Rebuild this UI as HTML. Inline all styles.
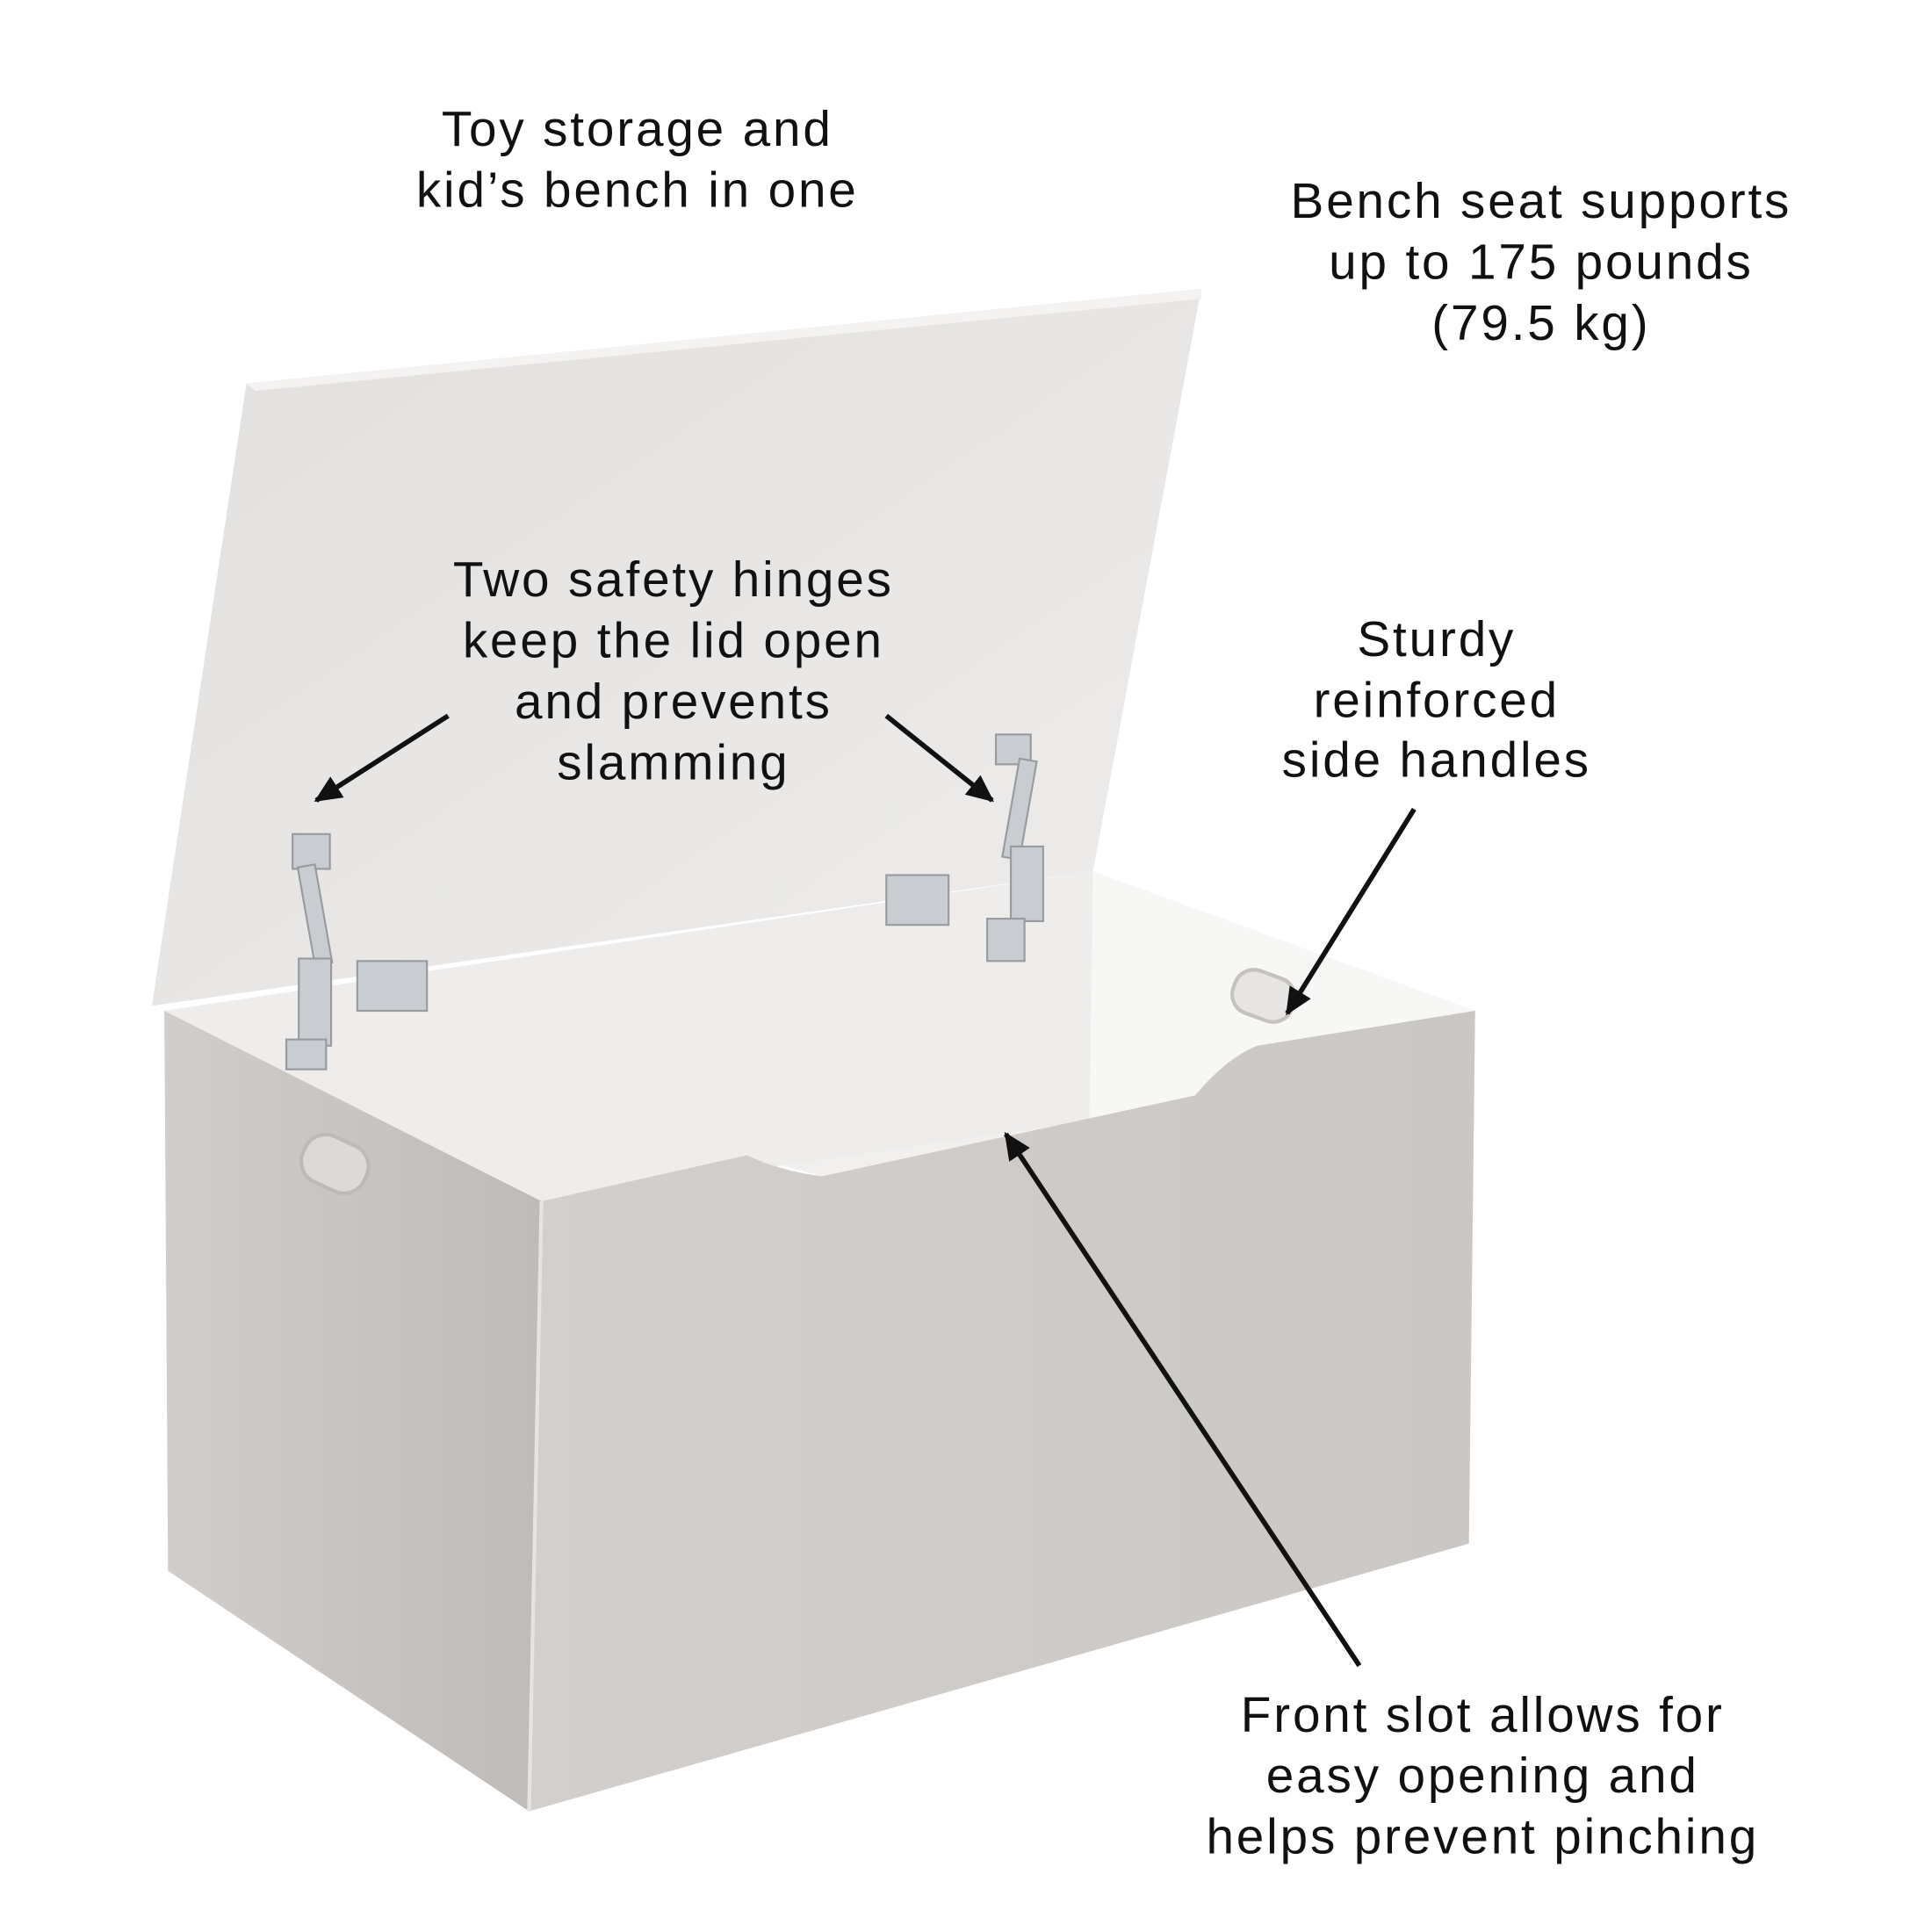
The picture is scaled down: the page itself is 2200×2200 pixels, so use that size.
<!DOCTYPE html>
<html><head><meta charset="utf-8"><style>
html,body{margin:0;padding:0;background:#fff;}
svg{display:block;}
text{font-family:"Liberation Sans",sans-serif;font-size:40px;letter-spacing:2px;fill:#111;text-anchor:middle;}
</style></head><body>
<svg width="2200" height="2200" viewBox="0 0 1552 1552" xmlns="http://www.w3.org/2000/svg">
<defs>
<linearGradient id="lid" x1="0" y1="0" x2="1" y2="1">
<stop offset="0" stop-color="#e2e0de"/><stop offset="1" stop-color="#eeedeb"/></linearGradient>
<linearGradient id="front" x1="0" y1="0" x2="1" y2="0">
<stop offset="0" stop-color="#d2cfcd"/><stop offset="1" stop-color="#cac7c4"/></linearGradient>
<linearGradient id="side" x1="0" y1="0" x2="1" y2="0">
<stop offset="0" stop-color="#d0cdca"/><stop offset="1" stop-color="#bfbcb8"/></linearGradient>
<marker id="ah" markerWidth="22" markerHeight="20" refX="20" refY="10" orient="auto" markerUnits="userSpaceOnUse" viewBox="0 0 22 20">
<path d="M0,0 L22,10 L0,20 z" fill="#111"/></marker>
</defs>
<polygon points="198,308 965,232 878,700 122,808" fill="url(#lid)"/>
<polygon points="198,308 965,232 965,240 205,314" fill="#f4f3f2"/>
<polygon points="132,812 878,700 1185,812 1010,840 960,880 660,945 600,928 435,965" fill="#f1f0ef"/>
<polygon points="878,700 1185,812 1010,840 960,880 875,900" fill="#f7f7f6"/>
<polygon points="132,812 878,700 875,900 435,965" fill="#eeedec"/>
<polygon points="132,812 435,965 425,1455 135,1262" fill="url(#side)"/>
<path d="M435,965 L600,928 Q625,940 660,945 L960,880 Q985,850 1010,840 L1185,812 L1180,1240 L425,1455 Z" fill="url(#front)"/>
<path d="M435,965 L425,1455" stroke="#e6e4e2" stroke-width="3"/>
<rect x="242" y="915" width="54" height="40" rx="18" fill="#dcdad8" stroke="#bdbab7" stroke-width="3" transform="rotate(25 269 935)"/>
<rect x="990" y="782" width="50" height="36" rx="16" fill="#e6e5e3" stroke="#c5c2bf" stroke-width="3" transform="rotate(20 1015 800)"/>
<g fill="#c9ccd0" stroke="#979ba0" stroke-width="1.5">
<rect x="235" y="670" width="30" height="28"/>
<rect x="246" y="695" width="14" height="80" transform="rotate(-10 253 735)"/>
<rect x="240" y="770" width="26" height="70"/>
<rect x="230" y="835" width="32" height="24"/>
<rect x="287" y="772" width="56" height="40"/>
<rect x="800" y="590" width="28" height="24"/>
<rect x="812" y="610" width="14" height="80" transform="rotate(10 819 650)"/>
<rect x="812" y="680" width="26" height="60"/>
<rect x="793" y="738" width="30" height="34"/>
<rect x="712" y="703" width="50" height="40"/>
</g>
<text x="512" y="117">Toy storage and</text>
<text x="512" y="166">kid’s bench in one</text>
<text x="1238" y="175">Bench seat supports</text>
<text x="1238" y="224">up to 175 pounds</text>
<text x="1238" y="273">(79.5 kg)</text>
<text x="541" y="479">Two safety hinges</text>
<text x="541" y="528">keep the lid open</text>
<text x="541" y="577">and prevents</text>
<text x="541" y="626">slamming</text>
<text x="1154" y="527">Sturdy</text>
<text x="1154" y="576">reinforced</text>
<text x="1154" y="624">side handles</text>
<text x="1191" y="1391">Front slot allows for</text>
<text x="1191" y="1440">easy opening and</text>
<text x="1191" y="1489">helps prevent pinching</text>
<g stroke="#111" stroke-width="4" fill="none">
<line x1="360" y1="575" x2="254" y2="643" marker-end="url(#ah)"/>
<line x1="712" y1="575" x2="797" y2="643" marker-end="url(#ah)"/>
<line x1="1136" y1="650" x2="1034" y2="814" marker-end="url(#ah)"/>
<line x1="1092" y1="1338" x2="808" y2="911" marker-end="url(#ah)"/>
</g>
</svg>
</body></html>
